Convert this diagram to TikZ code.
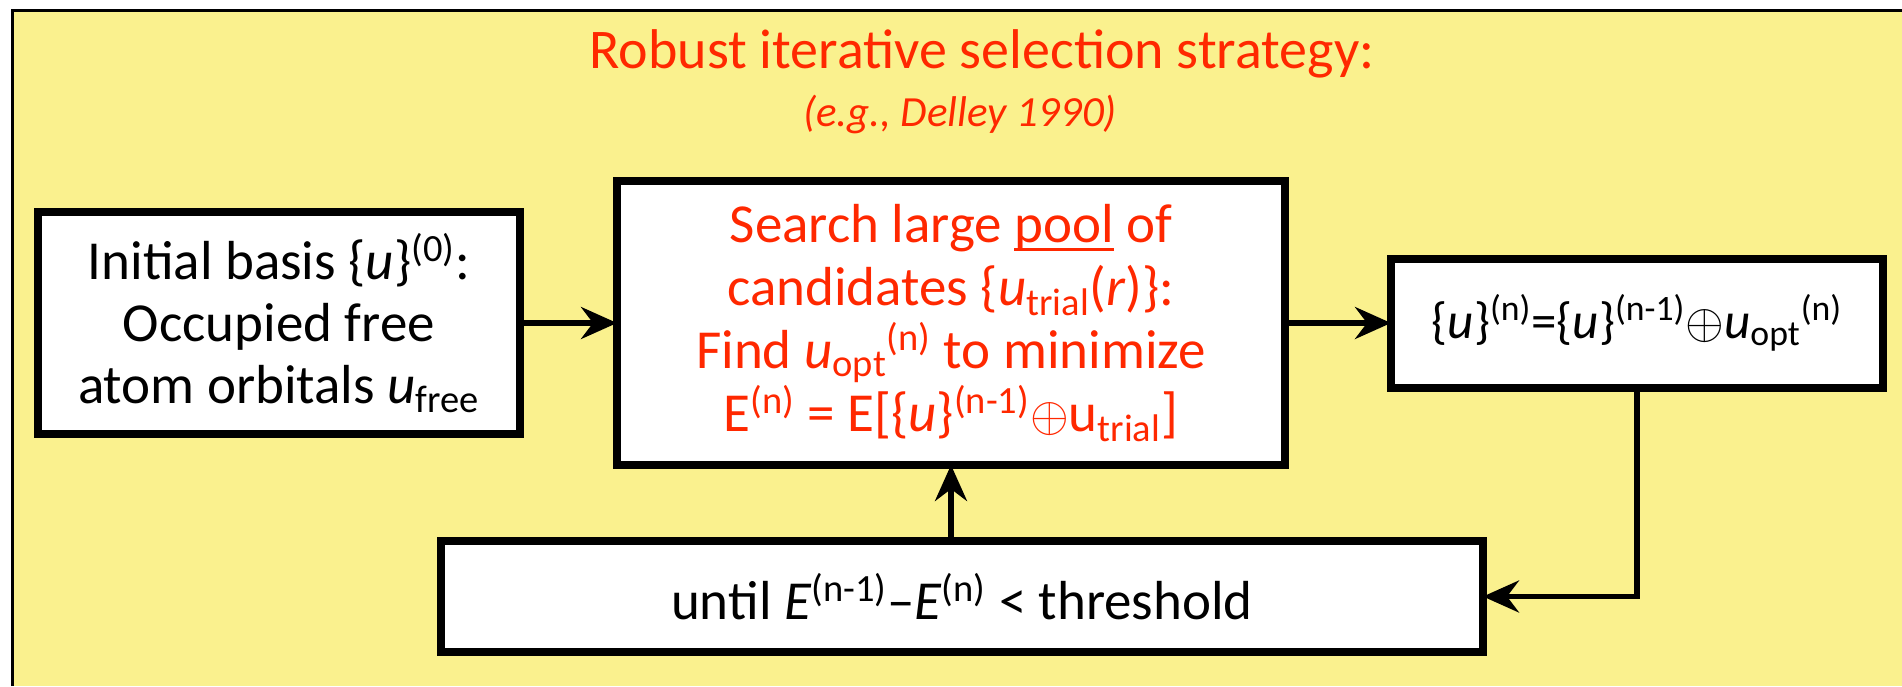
\documentclass[tikz,border=0pt]{standalone}
\usepackage{fontspec}
\setmainfont{Carlito}
\usetikzlibrary{arrows.meta,calc}
\definecolor{bgyellow}{RGB}{250,241,142}
\definecolor{txtred}{RGB}{255,40,0}
\newcommand{\thickul}[1]{\setbox0\hbox{#1}\rlap{\rule[-0.16em]{\wd0}{0.055em}}#1}
\begin{document}
\begin{tikzpicture}[x=0.5pt,y=-0.5pt,
  box/.style={draw=black, fill=white, line width=4pt, outer sep=0pt, inner sep=0pt, align=center},
  arr/.style={line width=2.6pt, -{Stealth[length=18pt,width=16pt,inset=6pt]}},
  ]
\useasboundingbox (0,0) rectangle (1902,686);
\fill[bgyellow] (12,10) rectangle (1902,686);
\draw[line width=1.5pt] (12,686) -- (12,10) -- (1902,10);

\node[txtred, anchor=base, font=\fontsize{28}{32}\selectfont] (title) at (982,68) {Robust iterative selection strategy:};
\node[txtred, anchor=base, font=\fontsize{21.5}{26}\selectfont\itshape] (sub) at (960,126) {(e.g., Delley 1990)};

\node[box, minimum width=241pt, minimum height=111pt, font=\fontsize{27.5}{31}\selectfont] (init) at (279,323)
  {Initial basis \{\textit{u}\}\textsuperscript{(0)}:\\Occupied free\\atom orbitals \textit{u}\textsubscript{free}};
\node[box, text=txtred, minimum width=334pt, minimum height=142pt, font=\fontsize{27.5}{31.5}\selectfont] (mid) at (951,323)
  {Search large \thickul{pool} of\\candidates \{\textit{u}\textsubscript{trial}(\textit{r})\}:\\Find \textit{u}\textsubscript{opt}\textsuperscript{(n)} to minimize\\E\textsuperscript{(n)} = E[\{\textit{u}\}\textsuperscript{(n-1)}$\oplus$u\textsubscript{trial}]};
\node[box, minimum width=246pt, minimum height=64.5pt, font=\fontsize{25.5}{30}\selectfont] (res) at (1637,323)
  {\{\textit{u}\}\textsuperscript{(n)}=\{\textit{u}\}\textsuperscript{(n-1)}$\oplus$\textit{u}\textsubscript{opt}\textsuperscript{(n)}};
\node[box, minimum width=521pt, minimum height=55.5pt, font=\fontsize{27.5}{31}\selectfont] (until) at (962,596.5)
  {until \textit{E}\textsuperscript{(n-1)}\textendash\textit{E}\textsuperscript{(n)} < threshold};

\draw[arr] (init.east) -- (mid.west);
\draw[arr] (mid.east) -- (res.west);
\draw[arr] (res.south) |- (until.east);
\draw[arr] (until.north -| mid.south) -- (mid.south);
\end{tikzpicture}
\end{document}
